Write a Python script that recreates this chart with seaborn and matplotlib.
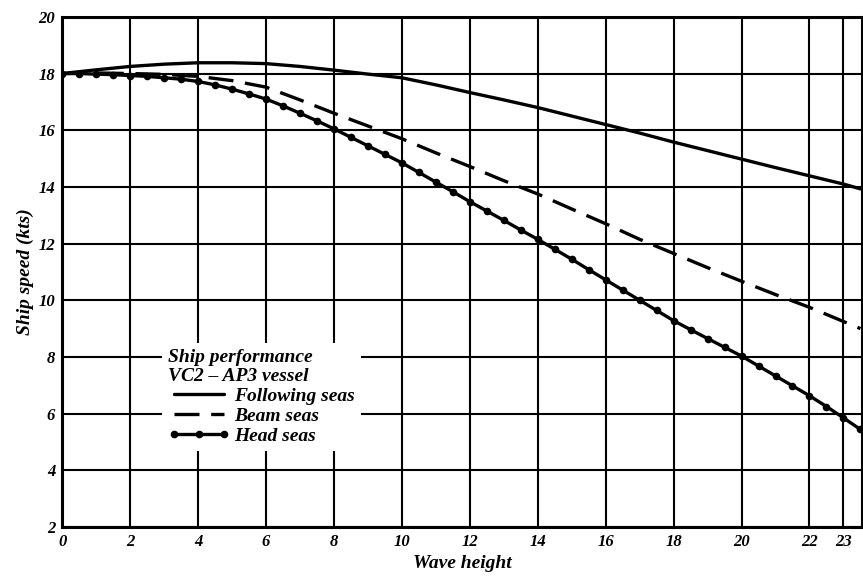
import matplotlib
matplotlib.use("Agg")
import matplotlib.pyplot as plt
import seaborn as sns
import pandas as pd

# ---- data ----
x_follow = [0, 1, 2, 3, 4, 5, 6, 7, 8, 9, 10, 11, 12, 13, 14, 15, 16, 17, 18, 19, 20, 21, 22, 23, 23.5]
following = [18.0, 18.13, 18.25, 18.33, 18.38, 18.38, 18.35, 18.25, 18.12, 17.98, 17.85, 17.6, 17.33,
             17.07, 16.8, 16.5, 16.2, 15.9, 15.58, 15.28, 14.98, 14.68, 14.39, 14.1, 13.93]

x_beam = [0, 1, 2, 3, 4, 5, 6, 7, 8, 9, 10, 11, 12, 13, 14, 15, 16, 17, 18, 19, 20, 21, 22, 23, 23.5]
beam = [18.0, 18.02, 18.0, 17.97, 17.9, 17.75, 17.52, 17.07, 16.6, 16.15, 15.7, 15.2, 14.72,
        14.22, 13.75, 13.22, 12.7, 12.15, 11.65, 11.15, 10.67, 10.2, 9.75, 9.25, 9.0]

x_head = [0, 0.5, 1, 1.5, 2, 2.5, 3, 3.5, 4, 4.5, 5, 5.5, 6, 6.5, 7, 7.5, 8, 8.5, 9, 9.5, 10, 10.5,
          11, 11.5, 12, 12.5, 13, 13.5, 14, 14.5, 15, 15.5, 16, 16.5, 17, 17.5, 18, 18.5, 19, 19.5,
          20, 20.5, 21, 21.5, 22, 22.5, 23, 23.5]
head = [18.0, 18.0, 17.98, 17.96, 17.93, 17.9, 17.85, 17.8, 17.72, 17.6, 17.45, 17.28, 17.1, 16.86,
        16.6, 16.33, 16.05, 15.75, 15.45, 15.15, 14.85, 14.51, 14.17, 13.83, 13.48, 13.15, 12.82,
        12.48, 12.15, 11.8, 11.45, 11.08, 10.72, 10.36, 10.0, 9.64, 9.28, 8.96, 8.65, 8.34, 8.03,
        7.68, 7.33, 6.98, 6.63, 6.25, 5.85, 5.44]

x_ticks = [0, 2, 4, 6, 8, 10, 12, 14, 16, 18, 20, 22, 23]
y_ticks = [2, 4, 6, 8, 10, 12, 14, 16, 18, 20]

legend_title = "Ship performance\nVC2 – AP3 vessel"
labels = ["Following seas", "Beam seas", "Head seas"]

# ---- plotting ----
sns.set_theme(style="white")
plt.rcParams["font.family"] = ["Liberation Serif", "DejaVu Serif"]
plt.rcParams["text.color"] = "black"
plt.rcParams["axes.labelcolor"] = "black"
plt.rcParams["xtick.color"] = "black"
plt.rcParams["ytick.color"] = "black"

fig, ax = plt.subplots(figsize=(8.63, 5.81), dpi=100)
fig.subplots_adjust(left=0.072, right=0.999, top=0.971, bottom=0.093)

df_f = pd.DataFrame({"x": x_follow, "y": following})
df_b = pd.DataFrame({"x": x_beam, "y": beam})
df_h = pd.DataFrame({"x": x_head, "y": head})

sns.lineplot(data=df_f, x="x", y="y", ax=ax, color="black", lw=2.4, label=labels[0], zorder=3)
sns.lineplot(data=df_b, x="x", y="y", ax=ax, color="black", lw=2.4, label=labels[1], zorder=3)
sns.lineplot(data=df_h, x="x", y="y", ax=ax, color="black", lw=2.4, marker="o", markersize=5.5,
             markeredgewidth=0, label=labels[2], zorder=3)
ax.lines[1].set_dashes((7.5, 3.5))

ax.set_xlim(0, 23.55)
ax.set_ylim(2, 20)
ax.set_xticks(x_ticks)
ax.set_yticks(y_ticks)
tick_font = dict(fontsize=12, fontweight="bold", fontstyle="italic", color="black")
ax.set_xticklabels([str(t) for t in x_ticks], **tick_font)
ax.set_yticklabels([str(t) for t in y_ticks], **tick_font)
ax.tick_params(length=0, pad=5, colors="black")

ax.grid(True, color="black", lw=1.5)
ax.set_axisbelow(True)
for sp in ax.spines.values():
    sp.set_color("black")
    sp.set_linewidth(2.2)

ax.set_xlabel("Wave height", fontsize=14, fontweight="bold", fontstyle="italic", labelpad=4,
              color="black")
ax.set_ylabel("Ship speed (kts)", fontsize=14, fontweight="bold", fontstyle="italic", labelpad=3,
              color="black")

leg = ax.legend(loc="upper left", bbox_to_anchor=(0.113, 0.38), title=legend_title,
                frameon=True, facecolor="white", edgecolor="white", framealpha=1,
                handlelength=3.2, handletextpad=0.2, labelspacing=0.12, borderpad=0.3,
                numpoints=3, alignment="left",
                prop=dict(size=14, weight="bold", style="italic"))
leg.get_title().set_fontsize(14)
leg.get_title().set_fontweight("bold")
leg.get_title().set_fontstyle("italic")
leg.get_title().set_linespacing(1.2)
leg.get_title().set_color("black")
for t in leg.get_texts():
    t.set_color("black")
leg.get_frame().set_linewidth(0)
leg.set_zorder(5)

fig.savefig("out.png", dpi=100)
